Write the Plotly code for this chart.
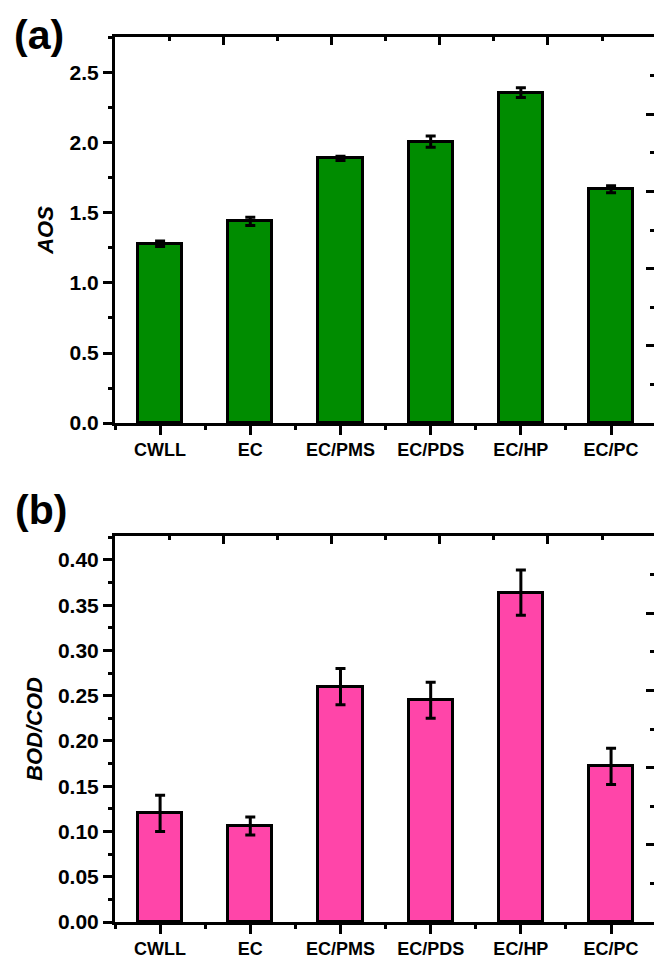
import plotly.graph_objects as go

categories = ["CWLL", "EC", "EC/PMS", "EC/PDS", "EC/HP", "EC/PC"]
aos_values = [1.28, 1.44, 1.89, 2.01, 2.36, 1.67]
aos_errors = [0.02, 0.03, 0.015, 0.04, 0.035, 0.025]
bodcod_values = [0.120, 0.106, 0.260, 0.245, 0.364, 0.172]
bodcod_errors = [0.020, 0.010, 0.020, 0.020, 0.025, 0.020]
aos_ticks = [0.0, 0.5, 1.0, 1.5, 2.0, 2.5]
bodcod_ticks = [0.00, 0.05, 0.10, 0.15, 0.20, 0.25, 0.30, 0.35, 0.40]

W, H = 654, 955
GREEN = "#008C00"
PINK = "#FF45A9"
FONT = "Liberation Sans"

xpos = list(range(len(categories)))
minor_x = [i - 0.5 for i in range(len(categories) + 1)]

def px_dom(top, bottom):
    return [1 - bottom / H, 1 - top / H]

xdom = [115 / W, 1.0]
ydom1 = px_dom(37, 423)
ydom2 = px_dom(536, 922)

fig = go.Figure()

def add_panel(vals, errs, color, xa, ya):
    fig.add_trace(go.Bar(
        x=xpos, y=vals, width=0.49,
        marker=dict(color=color, line=dict(color="black", width=3)),
        error_y=dict(type="data", array=errs, visible=True, color="black", thickness=3, width=5),
        xaxis=xa, yaxis=ya, showlegend=False, hoverinfo="skip",
    ))

add_panel(aos_values, aos_errors, GREEN, "x", "y")
add_panel(bodcod_values, bodcod_errors, PINK, "x2", "y2")
# empty traces to instantiate top/right tick axes
fig.add_trace(go.Scatter(x=[], y=[], xaxis="x3", yaxis="y3", showlegend=False))
fig.add_trace(go.Scatter(x=[], y=[], xaxis="x4", yaxis="y4", showlegend=False))

tickfont_y = dict(family=FONT, size=21, color="black", weight="bold")
tickfont_x = dict(family=FONT, size=18, color="black", weight="bold")
titlefont = dict(family=FONT, size=22, color="black", weight="bold", style="italic")

xr = [-0.5, 5.476]

def bottom_x(anchor):
    return dict(domain=xdom, anchor=anchor, range=xr, tickmode="array", tickvals=xpos,
                ticktext=categories, ticks="outside", ticklen=9, tickwidth=3, tickcolor="black",
                showline=True, linewidth=3, linecolor="black", showgrid=False, zeroline=False,
                tickfont=tickfont_x, automargin=False, ticklabelstandoff=-1,
                minor=dict(tickmode="array", tickvals=minor_x, ticks="outside", ticklen=4,
                           tickwidth=3, tickcolor="black", showgrid=False))

def left_y(anchor, dom, rng, tvals, fmt, minor_d, title):
    return dict(domain=dom, anchor=anchor, range=rng, tickmode="array", tickvals=tvals,
                ticktext=[fmt.format(v) for v in tvals], ticks="outside", ticklen=9, tickwidth=3,
                tickcolor="black", showline=True, linewidth=3, linecolor="black",
                showgrid=False, zeroline=False, tickfont=tickfont_y, automargin=False,
                title=dict(text=title, font=titlefont, standoff=10),
                minor=dict(dtick=minor_d, ticks="outside", ticklen=4, tickwidth=3,
                           tickcolor="black", showgrid=False))

def top_x(anchor, overlay):
    return dict(domain=xdom, anchor=anchor, overlaying=overlay, side="top", range=[0, 4.98],
                tickmode="linear", tick0=0, dtick=1, ticks="inside", ticklen=8, tickwidth=3,
                tickcolor="black", showticklabels=False, showline=True, linewidth=3,
                linecolor="black", showgrid=False, zeroline=False, automargin=False,
                minor=dict(dtick=0.5, ticks="inside", ticklen=4, tickwidth=3,
                           tickcolor="black", showgrid=False))

def right_y(anchor, overlay, dom):
    return dict(domain=dom, anchor=anchor, overlaying=overlay, side="right", range=[0, 5],
                tickmode="linear", tick0=0, dtick=1, ticks="inside", ticklen=8, tickwidth=3,
                tickcolor="black", showticklabels=False, showline=False, showgrid=False,
                zeroline=False, automargin=False,
                minor=dict(dtick=0.5, ticks="inside", ticklen=4, tickwidth=3,
                           tickcolor="black", showgrid=False))

fig.update_layout(
    width=W, height=H, margin=dict(l=0, r=0, t=0, b=0),
    paper_bgcolor="white", plot_bgcolor="white", bargap=0,
    xaxis=bottom_x("y"),
    yaxis=left_y("x", ydom1, [0, 2.757], aos_ticks, "{:.1f}", 0.25, "AOS"),
    xaxis2=bottom_x("y2"),
    yaxis2=left_y("x2", ydom2, [0, 0.4265], bodcod_ticks, "{:.2f}", 0.025, "BOD/COD"),
    xaxis3=top_x("y3", "x"),
    yaxis3=right_y("x3", "y", ydom1),
    xaxis4=top_x("y4", "x2"),
    yaxis4=right_y("x4", "y2", ydom2),
    annotations=[
        dict(text="(a)", x=38.5 / W, y=1 - 35 / H, xref="paper", yref="paper",
             xanchor="center", yanchor="middle", showarrow=False,
             font=dict(family=FONT, size=41, color="black", weight="bold")),
        dict(text="(b)", x=41 / W, y=1 - 510 / H, xref="paper", yref="paper",
             xanchor="center", yanchor="middle", showarrow=False,
             font=dict(family=FONT, size=41, color="black", weight="bold")),
    ],
)

fig.write_html("out.html")
